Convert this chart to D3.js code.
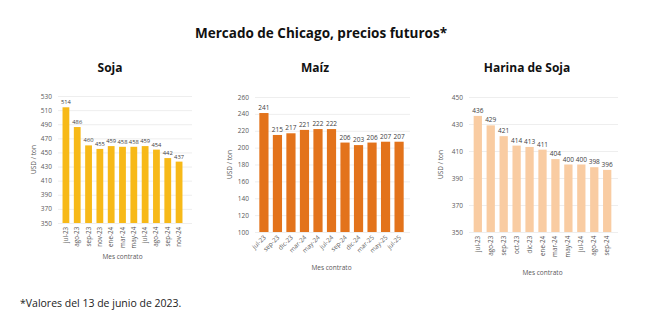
<!DOCTYPE html>
<html>
<head>
<meta charset="utf-8">
<script src="https://cdn.jsdelivr.net/npm/d3@7"></script>
<style>
  body { margin: 0; background: #fff; }
  svg { display: block; font-family: "Open Sans", "Liberation Sans", sans-serif; }
</style>
</head>
<body>
<div id="chart"></div>
<script>
// Soja
const sojaMonths = ["jul-23", "ago-23", "sep-23", "nov-23", "ene-24", "mar-24", "may-24", "jul-24", "ago-24", "sep-24", "nov-24"];
const sojaValues = [514, 486, 460, 455, 459, 458, 458, 459, 454, 442, 437];
const sojaTicks = [350, 370, 390, 410, 430, 450, 470, 490, 510, 530];

// Maíz
const maizMonths = ["jul-23", "sep-23", "dic-23", "mar-24", "may-24", "jul-24", "sep-24", "dic-24", "mar-25", "may-25", "jul-25"];
const maizValues = [241, 215, 217, 221, 222, 222, 206, 203, 206, 207, 207];
const maizTicks = [100, 120, 140, 160, 180, 200, 220, 240, 260];

// Harina de Soja
const harinaMonths = ["jul-23", "ago-23", "sep-23", "oct-23", "dic-23", "ene-24", "mar-24", "may-24", "jul-24", "ago-24", "sep-24"];
const harinaValues = [436, 429, 421, 414, 413, 411, 404, 400, 400, 398, 396];
const harinaTicks = [350, 370, 390, 410, 430, 450];

const width = 652;
const height = 336;

const svg = d3.select("#chart").append("svg")
    .attr("width", width)
    .attr("height", height);

svg.append("text")
    .attr("x", 321)
    .attr("y", 38)
    .attr("text-anchor", "middle")
    .attr("font-size", 13.5)
    .attr("font-weight", "bold")
    .attr("fill", "#111")
    .text("Mercado de Chicago, precios futuros*");

svg.append("text")
    .attr("x", 20)
    .attr("y", 307)
    .attr("font-size", 10.5)
    .attr("fill", "#222")
    .text("*Valores del 13 de junio de 2023.");

function panel(opts) {
    const x = d3.scaleBand()
        .domain(opts.months)
        .range(opts.xRange)
        .padding(opts.padding);

    const ticks = opts.ticks;
    const y = d3.scaleLinear()
        .domain([ticks[0], ticks[ticks.length - 1]])
        .range(opts.yRange);

    const g = svg.append("g");

    // title
    g.append("text")
        .attr("x", opts.titleX)
        .attr("y", 72)
        .attr("text-anchor", "middle")
        .attr("font-size", 12)
        .attr("font-weight", "bold")
        .attr("fill", "#111")
        .text(opts.title);

    // gridlines + y axis labels
    g.append("g")
        .attr("transform", `translate(${opts.xRange[0]},0)`)
        .call(d3.axisLeft(y).tickValues(ticks).tickSize(0).tickPadding(6))
        .call(a => a.select(".domain").remove())
        .call(a => a.selectAll(".tick text")
            .attr("font-size", 6.5)
            .attr("font-family", "Open Sans, sans-serif")
            .attr("fill", "#595959"))
        .call(a => a.selectAll(".tick line").clone()
            .attr("stroke", "#e6e6e6")
            .attr("stroke-width", 0.7)
            .attr("x1", 0)
            .attr("x2", opts.gridEnd - opts.xRange[0]));

    // bars
    g.append("g")
        .selectAll("rect")
        .data(opts.values)
        .join("rect")
            .attr("x", (d, i) => x(opts.months[i]))
            .attr("width", x.bandwidth())
            .attr("y", d => y(d))
            .attr("height", d => y(ticks[0]) - y(d))
            .attr("fill", opts.color);

    // value labels
    g.append("g")
        .selectAll("text")
        .data(opts.values)
        .join("text")
            .attr("x", (d, i) => x(opts.months[i]) + x.bandwidth() / 2)
            .attr("y", d => y(d) - 3)
            .attr("text-anchor", "middle")
            .attr("font-size", opts.labelSize)
            .attr("fill", "#404040")
            .text(d => d);

    // x axis
    const xa = g.append("g")
        .attr("transform", `translate(0,${y(ticks[0])})`)
        .call(d3.axisBottom(x).tickSize(0).tickPadding(4))
        .call(a => a.select(".domain").remove());

    xa.selectAll(".tick text")
        .attr("font-size", 6.3)
        .attr("font-family", "Open Sans, sans-serif")
        .attr("fill", "#595959")
        .style("text-anchor", "end")
        .attr("dy", opts.rotate === -90 ? "0.32em" : "0.3em")
        .attr("dx", opts.rotate === -90 ? "-0.3em" : "-0.4em")
        .attr("transform", `rotate(${opts.rotate})`);

    if (opts.rotate === -90) {
        xa.selectAll(".tick text").attr("x", 0).attr("y", 0).attr("dx", "-0.6em");
    } else {
        xa.selectAll(".tick text").attr("y", 4);
    }

    // axis titles
    g.append("text")
        .attr("x", (opts.xRange[0] + opts.xRange[1]) / 2)
        .attr("y", opts.xTitleY)
        .attr("text-anchor", "middle")
        .attr("font-size", 6.5)
        .attr("fill", "#595959")
        .text("Mes contrato");

    g.append("text")
        .attr("transform", `translate(${opts.yTitleX},${(opts.yRange[0] + opts.yRange[1]) / 2}) rotate(-90)`)
        .attr("text-anchor", "middle")
        .attr("font-size", 6.5)
        .attr("fill", "#595959")
        .text("USD / ton");
}

panel({
    title: "Soja", titleX: 110,
    months: sojaMonths, values: sojaValues, ticks: sojaTicks,
    xRange: [58, 187], yRange: [223, 96], gridEnd: 192, padding: 0.4,
    color: "#F7B918", rotate: -90, xTitleY: 259, yTitleX: 36, labelSize: 5.8
});

panel({
    title: "Maíz", titleX: 315,
    months: maizMonths, values: maizValues, ticks: maizTicks,
    xRange: [255, 408], yRange: [232, 97], gridEnd: 410, padding: 0.32,
    color: "#E3731B", rotate: -45, xTitleY: 270, yTitleX: 232, labelSize: 6.5
});

panel({
    title: "Harina de Soja", titleX: 527,
    months: harinaMonths, values: harinaValues, ticks: harinaTicks,
    xRange: [469, 616], yRange: [232, 97], gridEnd: 618, padding: 0.36,
    color: "#F9CCA2", rotate: -90, xTitleY: 275, yTitleX: 443, labelSize: 6.5
});
</script>
</body>
</html>
